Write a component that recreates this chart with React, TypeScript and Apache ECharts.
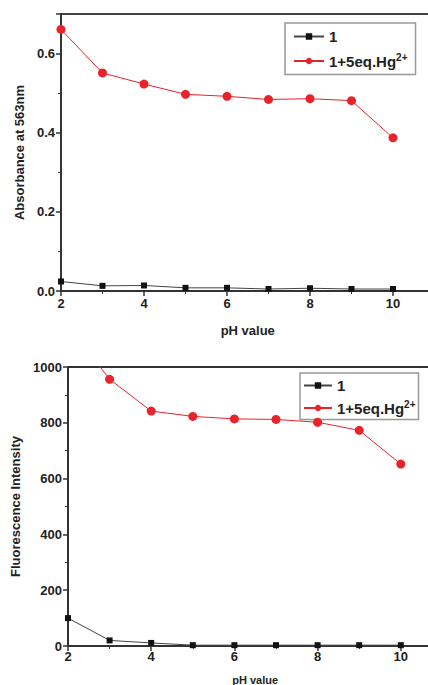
import React, { useEffect, useRef } from "react";
import * as echarts from "echarts";

const phValues = [2, 3, 4, 5, 6, 7, 8, 9, 10];
const absProbe = [0.024, 0.013, 0.014, 0.008, 0.008, 0.005, 0.007, 0.005, 0.005];
const absProbeHg = [0.661, 0.551, 0.523, 0.497, 0.492, 0.484, 0.486, 0.481, 0.387];
const fluProbe = [100, 20, 11, 3, 3, 3, 3, 3, 3];
const fluProbeHg = [1150, 956, 842, 823, 814, 812, 802, 773, 652];
const seriesNames = ["1", "1+5eq.Hg2+"];

const pairs = (ys: number[]) => phValues.map((x, i) => [x, ys[i]]);

export default function App() {
  const ref = useRef<HTMLDivElement>(null);
  useEffect(() => {
    if (!ref.current) return;
    const chart = echarts.init(ref.current, null, { renderer: "svg" });
    const font = "Liberation Sans";
    const axisCommon = {
      axisLine: { show: true, lineStyle: { color: "#333", width: 2 } },
      axisTick: { show: true, inside: false, length: 5, lineStyle: { color: "#333", width: 1.5 } },
      minorTick: { show: true, splitNumber: 2, length: 3, lineStyle: { color: "#333", width: 1 } },
      splitLine: { show: false },
      axisLabel: { color: "#222", fontFamily: font, fontWeight: "bold", fontSize: 13, margin: 6 },
      nameTextStyle: { color: "#222", fontFamily: font, fontWeight: "bold", fontSize: 13 },
    };
    const legendCommon = {
      orient: "vertical",
      backgroundColor: "#fff",
      borderColor: "#999",
      borderWidth: 1.5,
      borderRadius: 0,
      padding: [6, 8, 6, 8],
      itemGap: 6,
      itemWidth: 30,
      itemHeight: 8,
      data: seriesNames,
      textStyle: {
        fontFamily: font,
        fontWeight: "bold",
        fontSize: 15,
        color: "#222",
        rich: {
          a: { fontFamily: font, fontWeight: "bold", fontSize: 15, color: "#222" },
          sup: { fontFamily: font, fontWeight: "bold", fontSize: 10, color: "#222", verticalAlign: "top", padding: [0, 0, 8, 0] },
        },
      },
      formatter: (n: string) => (n === "1+5eq.Hg2+" ? "{a|1+5eq.Hg}{sup|2+}" : "{a|" + n + "}"),
    };
    const blackSeries = (data: number[], xi: number) => ({
      name: seriesNames[0],
      type: "line",
      xAxisIndex: xi,
      yAxisIndex: xi,
      data: pairs(data),
      symbol: "rect",
      symbolSize: 6,
      itemStyle: { color: "#111" },
      lineStyle: { color: "#444", width: 1 },
      clip: true,
      z: 3,
    });
    const redSeries = (data: number[], xi: number) => ({
      name: seriesNames[1],
      type: "line",
      xAxisIndex: xi,
      yAxisIndex: xi,
      data: pairs(data),
      symbol: "circle",
      symbolSize: 9,
      itemStyle: { color: "#e8242a" },
      lineStyle: { color: "#e8242a", width: 1 },
      clip: true,
      z: 4,
    });
    chart.setOption({
      animation: false,
      backgroundColor: "#fff",
      grid: [
        { left: 61, top: 14, height: 277, width: 373.5, outerBoundsMode: "none", containLabel: false, show: true, borderColor: "#444", borderWidth: 2 },
        { left: 68, top: 367, height: 279, width: 374.4, outerBoundsMode: "none", containLabel: false, show: true, borderColor: "#333", borderWidth: 2 },
      ],
      xAxis: [
        {
          ...axisCommon,
          type: "value",
          gridIndex: 0,
          min: 2,
          max: 11,
          interval: 2,
          name: "pH value",
          nameLocation: "middle",
          nameGap: 33,
          axisLabel: { ...axisCommon.axisLabel, showMaxLabel: false },
        },
        {
          ...axisCommon,
          type: "value",
          gridIndex: 1,
          min: 2,
          max: 11,
          interval: 2,
          name: "pH value",
          nameLocation: "middle",
          nameGap: 28,
          nameTextStyle: { ...axisCommon.nameTextStyle, fontSize: 11 },
          axisLabel: { ...axisCommon.axisLabel, showMaxLabel: false, margin: 4 },
        },
      ],
      yAxis: [
        {
          ...axisCommon,
          type: "value",
          gridIndex: 0,
          min: 0,
          max: 0.7,
          interval: 0.2,
          name: "Absorbance at 563nm",
          nameLocation: "middle",
          nameGap: 28,
          axisLabel: { ...axisCommon.axisLabel, formatter: (v: number) => v.toFixed(1), showMaxLabel: false },
        },
        {
          ...axisCommon,
          type: "value",
          gridIndex: 1,
          min: 0,
          max: 1000,
          interval: 200,
          name: "Fluorescence Intensity",
          nameLocation: "middle",
          nameGap: 40,
          axisLabel: { ...axisCommon.axisLabel, formatter: (v: number) => String(v) },
        },
      ],
      legend: [
        { ...legendCommon, left: 285, top: 23, itemGap: 8 },
        { ...legendCommon, left: 300, top: 373, itemGap: 6, padding: [5, 3, 4, 3], itemWidth: 28 },
      ],
      series: [
        blackSeries(absProbe, 0),
        redSeries(absProbeHg, 0),
        blackSeries(fluProbe, 1),
        redSeries(fluProbeHg, 1),
      ],
    });
    return () => chart.dispose();
  }, []);
  return (
    <div
      ref={ref}
      style={{ position: "fixed", left: 0, top: 0, width: 428, height: 685, background: "#fff" }}
    />
  );
}
